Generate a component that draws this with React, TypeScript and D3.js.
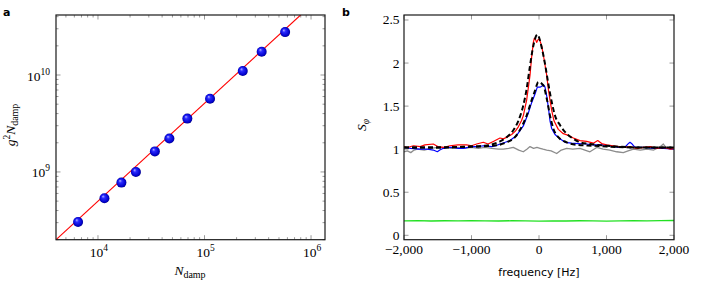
import React, { useRef, useEffect } from "react";
import * as d3 from "d3";

// panel a: measured damping points
const nDamp = [6500, 11500, 16600, 22700, 34200, 46800, 69000, 112700, 228600, 344000, 571000];
const g2nDamp = [3.05e8, 5.36e8, 7.76e8, 1.0e9, 1.63e9, 2.21e9, 3.55e9, 5.7e9, 1.1e10, 1.74e10, 2.77e10];
// fitted line end points
const fitN = [4036, 798000];
const fitG = [2.0e8, 4.16e10];
const decadesX = [1e4, 1e5, 1e6];
const decadeLabelsX = ["4", "5", "6"];
const decadesY = [1e9, 1e10];
const decadeLabelsY = ["9", "10"];

// panel b: spectra, [frequency Hz, S_phi]
const redF = [-2000, -1950, -1860, -1760, -1690, -1566, -1500, -1420, -1320, -1200, -1072, -1000, -923, -825, -755, -677, -578, -528, -450, -405, -350, -306, -260, -232, -183, -133, -109, -84, -69, -50, -35, -15, 5, 40, 74, 114, 138, 163, 188, 222, 286, 360, 435, 509, 607, 706, 805, 870, 929, 1000, 1100, 1175, 1250, 1350, 1450, 1550, 1650, 1750, 1850, 1950, 2000];
const redS = [1.03, 1.02, 1.04, 1.03, 1.05, 1.06, 1.03, 1.02, 1.04, 1.05, 1.05, 1.04, 1.06, 1.08, 1.06, 1.09, 1.13, 1.12, 1.15, 1.17, 1.21, 1.26, 1.33, 1.39, 1.57, 1.86, 2.07, 2.24, 2.29, 2.27, 2.24, 2.27, 2.28, 2.2, 2.05, 1.86, 1.7, 1.57, 1.45, 1.33, 1.23, 1.18, 1.16, 1.13, 1.1, 1.09, 1.07, 1.1, 1.065, 1.05, 1.04, 1.03, 1.02, 1.03, 1.01, 1.02, 1.03, 1.01, 1.02, 1.0, 1.01];
const blueF = [-2000, -1900, -1763, -1650, -1566, -1506, -1470, -1418, -1350, -1270, -1200, -1122, -1000, -900, -825, -700, -640, -578, -500, -430, -331, -232, -158, -109, -59, -25, 15, 40, 64, 89, 114, 138, 163, 188, 237, 311, 385, 480, 582, 700, 800, 929, 1050, 1175, 1280, 1330, 1348, 1380, 1422, 1550, 1700, 1850, 2000];
const blueS = [1.02, 1.01, 1.0, 1.0, 0.99, 0.97, 0.99, 1.01, 1.02, 1.02, 1.01, 1.01, 1.03, 1.03, 1.04, 1.03, 1.04, 1.06, 1.08, 1.1, 1.16, 1.27, 1.42, 1.54, 1.64, 1.72, 1.72, 1.73, 1.75, 1.72, 1.62, 1.49, 1.33, 1.24, 1.17, 1.12, 1.08, 1.07, 1.065, 1.06, 1.05, 1.05, 1.04, 1.02, 1.03, 1.07, 1.08, 1.06, 1.02, 1.02, 1.01, 1.01, 1.0];
const fitHighF = [-2000, -1500, -1000, -800, -677, -578, -479, -380, -306, -232, -183, -133, -84, -25, 40, 89, 138, 188, 237, 311, 410, 509, 607, 755, 1000, 1500, 2000];
const fitHighS = [1.02, 1.02, 1.03, 1.04, 1.06, 1.09, 1.14, 1.22, 1.33, 1.51, 1.7, 1.97, 2.2, 2.33, 2.18, 1.99, 1.76, 1.55, 1.39, 1.28, 1.18, 1.12, 1.08, 1.06, 1.04, 1.02, 1.02];
const fitLowF = [-2000, -1500, -1000, -800, -627, -479, -356, -257, -183, -109, -59, -10, 64, 114, 163, 212, 286, 410, 558, 800, 1000, 1500, 2000];
const fitLowS = [1.02, 1.02, 1.03, 1.035, 1.045, 1.08, 1.14, 1.26, 1.39, 1.57, 1.68, 1.78, 1.74, 1.59, 1.39, 1.24, 1.14, 1.08, 1.05, 1.04, 1.03, 1.02, 1.02];
const grayF = [-2000, -1950, -1900, -1850, -1800, -1700, -1600, -1500, -1400, -1300, -1200, -1100, -1000, -900, -800, -700, -600, -529, -450, -381, -300, -233, -180, -133, -80, -30, 15, 60, 114, 180, 262, 330, 410, 500, 607, 680, 755, 855, 950, 1050, 1150, 1249, 1320, 1400, 1500, 1600, 1700, 1800, 1842, 1880, 1950, 2000];
const grayS = [0.97, 0.98, 0.96, 0.99, 1.0, 0.99, 1.01, 1.02, 1.02, 1.01, 1.02, 1.01, 1.02, 1.01, 1.02, 1.01, 1.0, 1.0, 1.01, 1.02, 0.99, 0.97, 1.0, 1.03, 1.01, 1.02, 1.01, 1.0, 0.99, 0.98, 0.95, 0.99, 1.01, 1.0, 1.01, 0.99, 0.97, 1.02, 1.0, 0.99, 0.97, 0.96, 0.98, 1.0, 0.99, 1.0, 0.99, 1.03, 1.06, 1.02, 1.01, 1.0];
const greenF = [-2000, -1800, -1600, -1400, -1200, -1000, -800, -600, -400, -200, 0, 200, 400, 600, 800, 1000, 1200, 1400, 1600, 1800, 2000];
const greenS = [0.168, 0.17, 0.166, 0.169, 0.167, 0.17, 0.168, 0.166, 0.169, 0.167, 0.165, 0.168, 0.166, 0.169, 0.167, 0.165, 0.168, 0.17, 0.167, 0.171, 0.172];
const freqTicks = [-2000, -1000, 0, 1000, 2000];
const sTicks = [0, 0.5, 1, 1.5, 2, 2.5];

const serif = "'Liberation Serif', 'DejaVu Serif', serif";
const sans = "'DejaVu Sans', sans-serif";

const App = () => {
  const ref = useRef<SVGSVGElement>(null);
  const width = 703;
  const height = 287;

  useEffect(() => {
    const svg = d3.select(ref.current);
    svg.selectAll("*").remove();

    // ball shading for the markers
    const grad = svg.append("defs").append("radialGradient")
      .attr("id", "ball").attr("cx", "50%").attr("cy", "50%").attr("r", "55%")
      .attr("fx", "35%").attr("fy", "30%");
    grad.append("stop").attr("offset", "0%").attr("stop-color", "#b8b8ff");
    grad.append("stop").attr("offset", "30%").attr("stop-color", "#2a2aff");
    grad.append("stop").attr("offset", "80%").attr("stop-color", "#0000c8");
    grad.append("stop").attr("offset", "100%").attr("stop-color", "#000066");

    // ---------- panel a ----------
    const a = { left: 56, right: 325, top: 15, bottom: 239.7 };
    const x = d3.scaleLog().domain([4036, 1.352e6]).range([a.left, a.right]);
    const y = d3.scaleLog().domain([2.0e8, 4.16e10]).range([a.bottom, a.top]);

    svg.append("clipPath").attr("id", "clipA").append("rect")
      .attr("x", a.left).attr("y", a.top)
      .attr("width", a.right - a.left).attr("height", a.bottom - a.top);

    const ga = svg.append("g");
    const tickCol = "#555";
    x.ticks().forEach((t) => {
      const major = decadesX.includes(t);
      const len = major ? 4.5 : 2.5;
      const px = x(t);
      ga.append("line").attr("x1", px).attr("x2", px).attr("y1", a.bottom).attr("y2", a.bottom - len)
        .attr("stroke", tickCol).attr("stroke-width", 0.6);
      ga.append("line").attr("x1", px).attr("x2", px).attr("y1", a.top).attr("y2", a.top + len)
        .attr("stroke", tickCol).attr("stroke-width", 0.6);
    });
    y.ticks().forEach((t) => {
      const major = decadesY.includes(t);
      const len = major ? 4.5 : 2.5;
      const py = y(t);
      ga.append("line").attr("x1", a.left).attr("x2", a.left + len).attr("y1", py).attr("y2", py)
        .attr("stroke", tickCol).attr("stroke-width", 0.6);
      ga.append("line").attr("x1", a.right).attr("x2", a.right - len).attr("y1", py).attr("y2", py)
        .attr("stroke", tickCol).attr("stroke-width", 0.6);
    });

    ga.append("line").attr("clip-path", "url(#clipA)")
      .attr("x1", x(fitN[0])).attr("y1", y(fitG[0]))
      .attr("x2", x(fitN[1])).attr("y2", y(fitG[1]))
      .attr("stroke", "#ff0000").attr("stroke-width", 1.1);

    ga.selectAll(".dot").data(nDamp).enter().append("circle")
      .attr("cx", (d) => x(d))
      .attr("cy", (d, i) => y(g2nDamp[i]))
      .attr("r", 5)
      .attr("fill", "url(#ball)");

    ga.append("rect").attr("x", a.left).attr("y", a.top)
      .attr("width", a.right - a.left).attr("height", a.bottom - a.top)
      .attr("fill", "none").attr("stroke", "#1a1a1a").attr("stroke-width", 1.2);

    decadesX.forEach((t, i) => {
      const tx = ga.append("text").attr("x", x(t) + 1).attr("y", 256.5)
        .attr("text-anchor", "middle").attr("font-family", serif).attr("font-size", 13.5);
      tx.append("tspan").text("10");
      tx.append("tspan").attr("dy", -6).attr("font-size", 9.5).text(decadeLabelsX[i]);
    });
    decadesY.forEach((t, i) => {
      const tx = ga.append("text").attr("x", 50).attr("y", y(t) + 5.5)
        .attr("text-anchor", "end").attr("font-family", serif).attr("font-size", 13.5);
      tx.append("tspan").text("10");
      tx.append("tspan").attr("dy", -6).attr("font-size", 9.5).text(decadeLabelsY[i]);
    });

    const xl = ga.append("text").attr("x", 190).attr("y", 275)
      .attr("text-anchor", "middle").attr("font-family", serif).attr("font-size", 13.5);
    xl.append("tspan").attr("font-style", "italic").text("N");
    xl.append("tspan").attr("dy", 3).attr("font-size", 10).text("damp");

    const yl = ga.append("text").attr("transform", "translate(15,125) rotate(-90)")
      .attr("text-anchor", "middle").attr("font-family", serif).attr("font-size", 13.5);
    yl.append("tspan").attr("font-style", "italic").text("g");
    yl.append("tspan").attr("dy", -5).attr("font-size", 9.5).text("2");
    yl.append("tspan").attr("dy", 5).attr("font-style", "italic").text("N");
    yl.append("tspan").attr("dy", 3).attr("font-size", 10).text("damp");

    svg.append("text").attr("x", 3).attr("y", 16).attr("font-family", sans)
      .attr("font-weight", "bold").attr("font-size", 11).text("a");

    // ---------- panel b ----------
    const b = { left: 404, right: 674, top: 15, bottom: 239.7 };
    const fx = d3.scaleLinear().domain([-2000, 2000]).range([b.left, b.right]);
    const fy = d3.scaleLinear().domain([-0.051, 2.558]).range([b.bottom, b.top]);
    const gb = svg.append("g");

    svg.append("clipPath").attr("id", "clipB").append("rect")
      .attr("x", b.left).attr("y", b.top)
      .attr("width", b.right - b.left).attr("height", b.bottom - b.top);

    freqTicks.forEach((t) => {
      gb.append("line").attr("x1", fx(t)).attr("x2", fx(t)).attr("y1", b.bottom).attr("y2", b.bottom - 4.5)
        .attr("stroke", tickCol).attr("stroke-width", 0.6);
      gb.append("line").attr("x1", fx(t)).attr("x2", fx(t)).attr("y1", b.top).attr("y2", b.top + 4.5)
        .attr("stroke", tickCol).attr("stroke-width", 0.6);
      gb.append("text").attr("x", fx(t)).attr("y", 253.5).attr("text-anchor", "middle")
        .attr("font-family", serif).attr("font-size", 13.5)
        .text(t < 0 ? "\u2212" + d3.format(",")(-t) : d3.format(",")(t));
    });
    sTicks.forEach((t) => {
      gb.append("line").attr("x1", b.left).attr("x2", b.left + 4.5).attr("y1", fy(t)).attr("y2", fy(t))
        .attr("stroke", tickCol).attr("stroke-width", 0.6);
      gb.append("line").attr("x1", b.right).attr("x2", b.right - 4.5).attr("y1", fy(t)).attr("y2", fy(t))
        .attr("stroke", tickCol).attr("stroke-width", 0.6);
      gb.append("text").attr("x", 399.5).attr("y", fy(t) + 4.5).attr("text-anchor", "end")
        .attr("font-family", serif).attr("font-size", 13.5).text(String(t));
    });

    const series = [
      { f: greenF, s: greenS, color: "#22e022", w: 1.4, dash: null, curve: d3.curveLinear },
      { f: grayF, s: grayS, color: "#8c8c8c", w: 1.3, dash: null, curve: d3.curveLinear },
      { f: blueF, s: blueS, color: "#0000ff", w: 1.2, dash: null, curve: d3.curveLinear },
      { f: redF, s: redS, color: "#ff0000", w: 1.2, dash: null, curve: d3.curveLinear },
      { f: fitLowF, s: fitLowS, color: "#000000", w: 2, dash: "5,3", curve: d3.curveMonotoneX },
      { f: fitHighF, s: fitHighS, color: "#000000", w: 2, dash: "5,3", curve: d3.curveMonotoneX },
    ];
    series.forEach((sr) => {
      const line = d3.line<number>()
        .x((d) => fx(d))
        .y((d, i) => fy(sr.s[i]))
        .curve(sr.curve);
      gb.append("path").attr("clip-path", "url(#clipB)")
        .attr("d", line(sr.f))
        .attr("fill", "none").attr("stroke", sr.color).attr("stroke-width", sr.w)
        .attr("stroke-dasharray", sr.dash)
        .attr("stroke-linejoin", "round");
    });

    gb.append("rect").attr("x", b.left).attr("y", b.top)
      .attr("width", b.right - b.left).attr("height", b.bottom - b.top)
      .attr("fill", "none").attr("stroke", "#1a1a1a").attr("stroke-width", 1.2);

    gb.append("text").attr("x", 539).attr("y", 276).attr("text-anchor", "middle")
      .attr("font-family", sans).attr("font-size", 11).text("frequency [Hz]");

    const sl = gb.append("text").attr("transform", "translate(366,125) rotate(-90)")
      .attr("text-anchor", "middle").attr("font-family", serif).attr("font-size", 13.5);
    sl.append("tspan").attr("font-style", "italic").text("S");
    sl.append("tspan").attr("dy", 3).attr("font-size", 9.5).attr("font-style", "italic").text("\u03c6");

    svg.append("text").attr("x", 342).attr("y", 16).attr("font-family", sans)
      .attr("font-weight", "bold").attr("font-size", 11).text("b");
  });

  return (
    <svg ref={ref} width={width} height={height}
      style={{ position: "absolute", left: 0, top: 0, background: "#fff" }}></svg>
  );
};

export default App;
